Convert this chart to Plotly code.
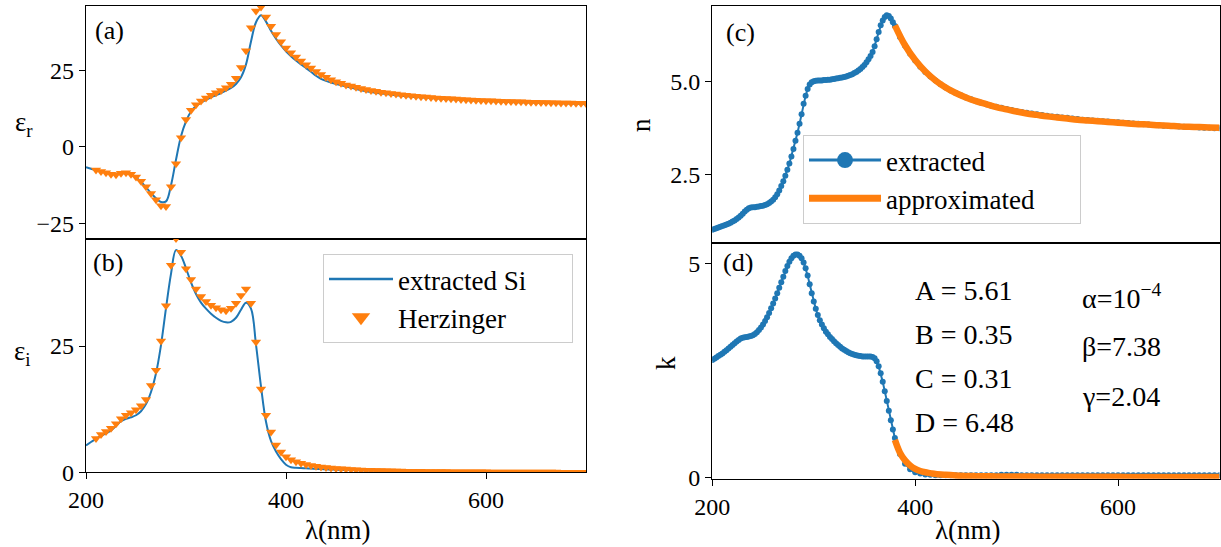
import plotly.graph_objects as go

BLUE = "#1f77b4"
ORANGE = "#ff7f0e"
FONT = "Liberation Serif, Times New Roman, serif"
PAD = "\u00a0" * 6  # right-hand padding inside the legend frames

# ---------------- dielectric function (panels a, b) ----------------
lam_eps = [200, 205, 210, 215, 220, 225, 230, 235, 240, 245, 250, 255, 260, 265, 270,
           275, 280, 285, 290, 295, 300, 305, 310, 315, 320, 325, 330, 335, 340, 345,
           350, 355, 360, 365, 370, 375, 380, 385, 390, 395, 400, 405, 410, 415, 420,
           425, 430, 435, 440, 445, 450, 460, 480, 500, 520, 540, 560, 580, 600, 620,
           640, 660, 680, 700]
eps_r_si = [-6.6, -7.1, -7.6, -8.0, -8.4, -8.7, -8.8, -8.6, -8.6, -9.0, -10.0, -11.4, -13.2,
            -15.1, -16.8, -18.0, -17.8, -12.5, -4.2, 3.5, 8.4, 11.6, 13.4, 14.5, 15.4, 16.2,
            16.9, 17.6, 18.4, 19.3, 20.6, 22.8, 27.0, 34.5, 40.8, 43.1, 41.0, 38.0, 35.4,
            33.2, 31.3, 29.7, 28.3, 27.0, 25.8, 24.6, 23.3, 22.3, 21.6, 21.1, 20.6, 19.8,
            18.2, 17.3, 16.6, 16.1, 15.7, 15.3, 15.0, 14.75, 14.55, 14.35, 14.2, 14.05]
eps_i_si = [5.3, 6.0, 6.6, 7.2, 7.7, 8.3, 9.2, 10.1, 10.6, 10.9, 11.3, 12.1, 13.5, 15.9,
            19.6, 25.2, 32.5, 39.3, 44.0, 42.9, 40.4, 37.6, 35.3, 33.6, 32.4, 31.4, 30.6,
            30.0, 29.7, 29.8, 30.6, 32.2, 33.6, 32.4, 25.3, 17.0, 10.0, 6.2, 4.1, 2.6, 1.5,
            1.0, 0.9, 0.85, 0.8, 0.75, 0.7, 0.65, 0.6, 0.55, 0.5, 0.45, 0.38, 0.3, 0.25,
            0.2, 0.17, 0.15, 0.13, 0.11, 0.1, 0.09, 0.08, 0.07]

lam_herz = list(range(210, 701, 5))
eps_r_herz = [-7.5, -8.0, -8.4, -8.9, -9.1, -8.6, -8.4, -8.9, -9.8, -11.2, -13.0, -15.2,
              -17.3, -19.2, -19.5, -13.0, -5.5, 3.0, 9.0, 12.0, 13.8, 15.0, 16.0, 16.9,
              17.7, 18.5, 19.4, 20.5, 22.5, 26.0, 31.5, 39.0, 44.5, 45.8, 42.5, 39.5, 36.8,
              34.4, 32.4, 30.8, 29.4, 28.1, 26.9, 25.8, 24.7, 23.7, 22.8, 22.0, 21.3, 20.8,
              20.3, 19.9, 19.5, 19.1, 18.8, 18.5, 18.2, 17.9, 17.7, 17.5, 17.3, 17.1, 16.9,
              16.75, 16.6, 16.45, 16.3, 16.2, 16.05, 15.95, 15.85, 15.75, 15.65, 15.55,
              15.45, 15.38, 15.3, 15.22, 15.15, 15.08, 15.02, 14.96, 14.9, 14.85, 14.8,
              14.75, 14.7, 14.65, 14.6, 14.56, 14.52, 14.48, 14.44, 14.4, 14.37, 14.34,
              14.31, 14.28, 14.25]
eps_i_herz = [6.7, 7.5, 8.1, 8.7, 9.6, 10.6, 11.3, 11.8, 12.4, 13.2, 14.4, 17.2, 20.2, 26.0,
              33.0, 41.0, 46.3, 43.6, 40.3, 38.2, 36.3, 34.8, 33.8, 33.1, 32.6, 32.2, 32.0,
              32.5, 33.5, 35.0, 36.3, 33.5, 25.8, 16.5, 11.3, 8.0, 5.4, 4.0, 3.1, 2.5, 2.1,
              1.8, 1.55, 1.35, 1.2, 1.05, 0.95, 0.85, 0.77, 0.7, 0.63, 0.57, 0.52, 0.47,
              0.43, 0.4, 0.37, 0.34, 0.31, 0.29, 0.27, 0.25, 0.23, 0.21, 0.2, 0.19, 0.18,
              0.17, 0.16, 0.15, 0.14, 0.13, 0.12, 0.115, 0.11, 0.1, 0.095, 0.09, 0.085,
              0.08, 0.075, 0.07, 0.065, 0.06, 0.057, 0.054, 0.051, 0.048, 0.045, 0.042,
              0.04, 0.038, 0.036, 0.034, 0.032, 0.03, 0.028, 0.026, 0.025]

# ---------------- refractive index (panels c, d) ----------------
lam_nk = list(range(200, 381, 2)) + list(range(385, 701, 5))
n_ext = [1.00, 1.02, 1.04, 1.06, 1.08, 1.10, 1.12, 1.14, 1.16, 1.19, 1.22, 1.25, 1.29, 1.33,
         1.38, 1.43, 1.49, 1.54, 1.58, 1.60, 1.61, 1.61, 1.62, 1.63, 1.64, 1.65, 1.67, 1.69,
         1.72, 1.76, 1.81, 1.88, 1.96, 2.06, 2.18, 2.31, 2.46, 2.62, 2.79, 2.98, 3.18, 3.40,
         3.62, 3.86, 4.12, 4.40, 4.62, 4.80, 4.92, 4.98, 5.01, 5.02, 5.03, 5.03, 5.03, 5.04,
         5.04, 5.05, 5.05, 5.06, 5.07, 5.08, 5.09, 5.10, 5.11, 5.12, 5.14, 5.16, 5.18, 5.20,
         5.23, 5.26, 5.30, 5.34, 5.39, 5.45, 5.52, 5.60, 5.69, 5.80, 5.95, 6.14, 6.34, 6.52,
         6.65, 6.74, 6.79, 6.77, 6.70, 6.60, 6.50,
         6.20, 5.97, 5.75, 5.57, 5.40, 5.26, 5.14, 5.03, 4.93, 4.84, 4.76, 4.69, 4.63, 4.57,
         4.52, 4.47, 4.43, 4.39, 4.35, 4.32, 4.29, 4.26, 4.23, 4.20, 4.18, 4.16, 4.14, 4.12,
         4.10, 4.08, 4.06, 4.05, 4.03, 4.02, 4.00, 3.99, 3.97, 3.96, 3.95, 3.94, 3.93, 3.92,
         3.91, 3.90, 3.89, 3.88, 3.87, 3.86, 3.85, 3.84, 3.83, 3.82, 3.81, 3.80, 3.80, 3.79,
         3.78, 3.77, 3.77, 3.76, 3.75, 3.75, 3.74, 3.74, 3.73]
k_ext = [2.75, 2.78, 2.81, 2.84, 2.87, 2.90, 2.94, 2.98, 3.02, 3.06, 3.10, 3.14, 3.18, 3.22,
         3.25, 3.27, 3.28, 3.29, 3.30, 3.31, 3.33, 3.36, 3.40, 3.45, 3.51, 3.58, 3.66, 3.75,
         3.85, 3.96, 4.07, 4.19, 4.31, 4.44, 4.57, 4.70, 4.83, 4.95, 5.05, 5.13, 5.19, 5.22,
         5.22, 5.19, 5.13, 5.03, 4.90, 4.73, 4.52, 4.31, 4.12, 3.95, 3.80, 3.68, 3.58, 3.49,
         3.41, 3.35, 3.29, 3.24, 3.19, 3.14, 3.10, 3.06, 3.02, 2.99, 2.96, 2.93, 2.91, 2.89,
         2.87, 2.86, 2.85, 2.84, 2.83, 2.83, 2.83, 2.83, 2.83, 2.82, 2.79, 2.72, 2.60, 2.44,
         2.24, 2.02, 1.79, 1.56, 1.34, 1.12, 0.92,
         0.55, 0.32, 0.19, 0.12, 0.09, 0.07, 0.06, 0.05, 0.05, 0.05, 0.05, 0.05, 0.05, 0.05,
         0.05, 0.05, 0.05, 0.05, 0.05, 0.05, 0.06, 0.06, 0.06, 0.06, 0.05, 0.05, 0.05, 0.05,
         0.05, 0.05, 0.05, 0.05, 0.05, 0.05, 0.05, 0.05, 0.05, 0.05, 0.05, 0.05, 0.05, 0.05,
         0.05, 0.05, 0.05, 0.05, 0.05, 0.05, 0.05, 0.05, 0.05, 0.05, 0.05, 0.05, 0.05, 0.05,
         0.05, 0.05, 0.05, 0.05, 0.05, 0.05, 0.05, 0.05]

lam_n_fit = list(range(380, 701, 10))
n_fit = [6.52, 5.98, 5.58, 5.27, 5.03, 4.84, 4.69, 4.57, 4.47, 4.39, 4.31, 4.25, 4.19, 4.14,
         4.10, 4.06, 4.03, 4.00, 3.97, 3.95, 3.93, 3.91, 3.89, 3.87, 3.85, 3.84, 3.82, 3.81,
         3.79, 3.78, 3.77, 3.76, 3.75]
lam_k_fit = [380, 385, 390, 395, 400, 405, 410, 415, 420, 430, 440, 450, 460, 470, 480, 490,
             500, 520, 540, 560, 580, 600, 620, 640, 660, 680, 700]
k_fit = [0.88, 0.58, 0.40, 0.28, 0.20, 0.15, 0.12, 0.10, 0.08, 0.06, 0.045, 0.035, 0.03,
         0.027, 0.024, 0.022, 0.02, 0.018, 0.016, 0.015, 0.014, 0.013, 0.012, 0.011, 0.011,
         0.01, 0.01]

fit_params = ["A = 5.61", "B = 0.35", "C = 0.31", "D = 6.48"]
shape_params = ["α=10<sup>−4</sup>", "β=7.38", "γ=2.04"]

fig = go.Figure()

# (a) real part
fig.add_trace(go.Scatter(x=lam_eps, y=eps_r_si, mode="lines", line=dict(color=BLUE, width=2, shape="spline"),
                         xaxis="x", yaxis="y", showlegend=False))
fig.add_trace(go.Scatter(x=lam_herz, y=eps_r_herz, mode="markers",
                         marker=dict(symbol="triangle-down", size=9, color=ORANGE),
                         xaxis="x", yaxis="y", showlegend=False))
# (b) imaginary part
fig.add_trace(go.Scatter(x=lam_eps, y=eps_i_si, mode="lines", line=dict(color=BLUE, width=2, shape="spline"),
                         xaxis="x2", yaxis="y2", showlegend=False))
fig.add_trace(go.Scatter(x=lam_herz, y=eps_i_herz, mode="markers",
                         marker=dict(symbol="triangle-down", size=9, color=ORANGE),
                         xaxis="x2", yaxis="y2", showlegend=False))
# legend entries for (a)/(b)
fig.add_trace(go.Scatter(x=[None], y=[None], mode="lines", line=dict(color=BLUE, width=2.5),
                         name="extracted Si" + PAD, xaxis="x2", yaxis="y2", legend="legend"))
fig.add_trace(go.Scatter(x=[None], y=[None], mode="markers",
                         marker=dict(symbol="triangle-down", size=16, color=ORANGE),
                         name="Herzinger", xaxis="x2", yaxis="y2", legend="legend"))

# (c) n
fig.add_trace(go.Scatter(x=lam_nk, y=n_ext, mode="lines+markers",
                         line=dict(color=BLUE, width=2), marker=dict(size=6, color=BLUE),
                         xaxis="x3", yaxis="y3", showlegend=False))
fig.add_trace(go.Scatter(x=lam_n_fit, y=n_fit, mode="lines", line=dict(color=ORANGE, width=6.5, shape="spline"),
                         xaxis="x3", yaxis="y3", showlegend=False))
# (d) k
fig.add_trace(go.Scatter(x=lam_nk, y=k_ext, mode="lines+markers",
                         line=dict(color=BLUE, width=2), marker=dict(size=6, color=BLUE),
                         xaxis="x4", yaxis="y4", showlegend=False))
fig.add_trace(go.Scatter(x=lam_k_fit, y=k_fit, mode="lines", line=dict(color=ORANGE, width=6.5, shape="spline"),
                         xaxis="x4", yaxis="y4", showlegend=False))
# legend entries for (c)/(d)
fig.add_trace(go.Scatter(x=[None], y=[None], mode="lines+markers",
                         line=dict(color=BLUE, width=3), marker=dict(size=16, color=BLUE),
                         name="extracted", xaxis="x3", yaxis="y3", legend="legend2"))
fig.add_trace(go.Scatter(x=[None], y=[None], mode="lines", line=dict(color=ORANGE, width=7),
                         name="approximated" + PAD, xaxis="x3", yaxis="y3", legend="legend2"))

W, H = 1221, 547
LEFT = [86 / W, 586 / W]
RIGHT = [712.3 / W, 1219.5 / W]


def ydom(top_px, bottom_px):
    return [1 - bottom_px / H, 1 - top_px / H]


axis_common = dict(showline=True, linecolor="black", linewidth=1.3, mirror=True,
                   showgrid=False, zeroline=False, ticks="outside", ticklen=6,
                   tickwidth=1.3, tickcolor="black", automargin=False,
                   tickfont=dict(family=FONT, size=24, color="black"))

fig.update_layout(
    width=W, height=H, margin=dict(l=0, r=0, t=0, b=0, autoexpand=False),
    paper_bgcolor="white", plot_bgcolor="white",
    font=dict(family=FONT, color="black"),
    xaxis=dict(axis_common, domain=LEFT, anchor="y", range=[200, 700], showticklabels=False, ticks=""),
    yaxis=dict(axis_common, domain=ydom(6, 239), anchor="x", range=[-30.1, 46.1], tickvals=[-25, 0, 25]),
    xaxis2=dict(axis_common, domain=LEFT, anchor="y2", range=[200, 700], tickvals=[200, 400, 600]),
    yaxis2=dict(axis_common, domain=ydom(239, 472.3), anchor="x2", range=[0, 46.2], tickvals=[0, 25]),
    xaxis3=dict(axis_common, domain=RIGHT, anchor="y3", range=[200, 700], showticklabels=False, ticks=""),
    yaxis3=dict(axis_common, domain=ydom(6, 242.5), anchor="x3", range=[0.655, 7.04],
                tickvals=[2.5, 5.0], tickformat=".1f"),
    xaxis4=dict(axis_common, domain=RIGHT, anchor="y4", range=[200, 700], tickvals=[200, 400, 600]),
    yaxis4=dict(axis_common, domain=ydom(242.5, 478.7), anchor="x4", range=[-0.03, 5.5], tickvals=[0, 5]),
    legend=dict(x=323 / W, y=1 - 254 / H, xanchor="left", yanchor="top",
                bgcolor="rgba(255,255,255,0.8)", bordercolor="#cccccc", borderwidth=1,
                font=dict(family=FONT, size=27, color="black"), itemwidth=64, tracegroupgap=0),
    legend2=dict(x=803 / W, y=1 - 135 / H, xanchor="left", yanchor="top",
                 bgcolor="rgba(255,255,255,0.8)", bordercolor="#cccccc", borderwidth=1,
                 font=dict(family=FONT, size=27, color="black"), itemwidth=72, tracegroupgap=0),
)


def px_note(text, x, y, size=27, angle=0, xanchor="center", yanchor="middle"):
    fig.add_annotation(text=text, x=x / W, y=1 - y / H, xref="paper", yref="paper",
                       showarrow=False, xanchor=xanchor, yanchor=yanchor, textangle=angle,
                       font=dict(family=FONT, size=size, color="black"))


# panel tags
px_note("(a)", 109, 31, 26)
px_note("(b)", 108, 262, 26)
px_note("(c)", 740, 32, 26)
px_note("(d)", 738, 263, 26)

# axis labels
px_note("ε<sub>r</sub>", 24, 124, 27)
px_note("ε<sub>i</sub>", 22, 353, 27)
px_note("n", 641, 125, 27, angle=-90)
px_note("k", 666, 363, 27, angle=-90)
px_note("λ(nm)", 338, H, 27, yanchor="bottom")
px_note("λ(nm)", 968, H, 27, yanchor="bottom")

# fitted parameters
for i, t in enumerate(fit_params):
    px_note(t, 913, 290 + 44 * i, 28, xanchor="left")
for i, t in enumerate(shape_params):
    px_note(t, 1080, 296 + 50 * i, 28, xanchor="left")

fig.write_html("out.html")
